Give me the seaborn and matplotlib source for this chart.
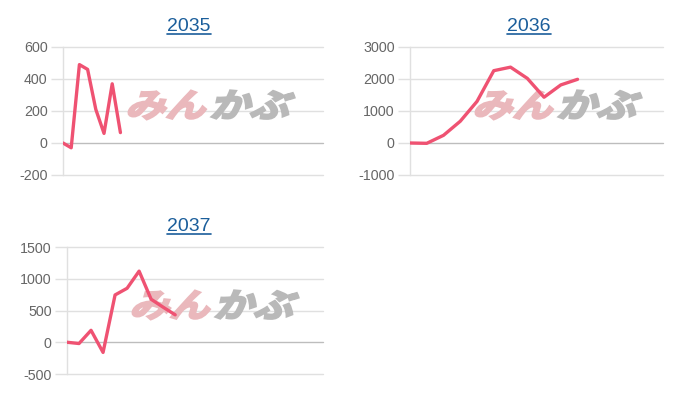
import matplotlib
matplotlib.use("Agg")
import matplotlib.pyplot as plt
import matplotlib.transforms as mtransforms
from matplotlib.lines import Line2D
from matplotlib.patches import PathPatch
from matplotlib.textpath import TextPath
from matplotlib.font_manager import FontProperties
import seaborn as sns
import pandas as pd

# Data
# ==================================================
years = ["2035", "2036", "2037"]
values_2035 = [0, -30, 490, 460, 210, 60, 370, 65]
values_2036 = [0, -10, 240, 680, 1300, 2260, 2370, 2020, 1430, 1815, 1990]
values_2037 = [0, -20, 188, -160, 745, 850, 1120, 677, 552, 432]
y_ticks = {
    "2035": [-200, 0, 200, 400, 600],
    "2036": [-1000, 0, 1000, 2000, 3000],
    "2037": [-500, 0, 500, 1000, 1500],
}
series = {"2035": values_2035, "2036": values_2036, "2037": values_2037}

# Style
# ==================================================
sns.set_style("white")
plt.rcParams["font.family"] = ["Liberation Sans", "DejaVu Sans"]

LINE_COLOR = "#ef5272"
GRID_COLOR = "#e0e0e0"
ZERO_COLOR = "#bdbdbd"
TICK_COLOR = "#666666"
TITLE_COLOR = "#1b5e9b"

W, H = 700, 400
fig = plt.figure(figsize=(7, 4), dpi=100)

# axes boxes in pixels: left, right, top, bottom ; xlim max ; title centre x, title baseline y
layout = {
    "2035": (63, 323, 47, 175, 31.7, 189, 31),
    "2036": (410, 663, 47, 175, 15.1, 529, 31),
    "2037": (67, 323, 247, 374, 21.3, 189, 231),
}

wm_font = FontProperties(family="Noto Sans CJK JP", weight="bold")


def add_watermark(ax, x_px, base_px):
    # logo-like watermark, slanted
    for txt, col, dx in [("みん", "#eab8bc", 0), ("かぶ", "#b9b9b9", 84)]:
        tp = TextPath((0, 0), txt, size=1, prop=wm_font)
        tr = mtransforms.Affine2D().scale(40, 33).skew_deg(18, 0).translate(x_px + dx, H - base_px)
        path = tr.transform_path(tp)
        patch = PathPatch(path, facecolor=col, edgecolor=col, lw=1.6,
                          transform=mtransforms.IdentityTransform(), zorder=1.5, clip_on=False)
        ax.add_artist(patch)


titles = []
for year in years:
    left, right, top, bottom, xmax, tx, ty = layout[year]
    ax = fig.add_axes([left / W, 1 - bottom / H, (right - left) / W, (bottom - top) / H])
    df = pd.DataFrame({"x": range(len(series[year])), "y": series[year]})

    # gridlines
    ticks = y_ticks[year]
    for t in ticks:
        ax.axhline(t, color=ZERO_COLOR if t == 0 else GRID_COLOR, lw=1, zorder=1, clip_on=False)

    add_watermark(ax, left + 62, top + 70)

    sns.lineplot(data=df, x="x", y="y", ax=ax, color=LINE_COLOR, lw=2.4, zorder=3)

    ax.set_xlim(0, xmax)
    ax.set_ylim(ticks[0], ticks[-1])
    ax.set_yticks(ticks)
    ax.set_yticklabels([str(t) for t in ticks])
    ax.set_xticks([])
    ax.set_xlabel("")
    ax.set_ylabel("")
    ax.tick_params(axis="y", length=9, width=1, color=GRID_COLOR, pad=2,
                   labelsize=10.3, labelcolor=TICK_COLOR, left=True)
    for s in ["top", "right", "bottom"]:
        ax.spines[s].set_visible(False)
    ax.spines["left"].set_color(GRID_COLOR)
    ax.spines["left"].set_linewidth(1)
    ax.patch.set_alpha(0)

    t = fig.text(tx / W, 1 - ty / H, year, ha="center", va="baseline",
                 fontsize=14, color=TITLE_COLOR)
    titles.append((t, ty))

# underline the titles like links
fig.canvas.draw()
renderer = fig.canvas.get_renderer()
for t, ty in titles:
    bb = t.get_window_extent(renderer)
    y = H - ty - 2.5
    fig.add_artist(Line2D([bb.x0, bb.x1], [y, y], color=TITLE_COLOR, lw=1.2,
                          transform=mtransforms.IdentityTransform()))

fig.savefig("out.png", dpi=100, facecolor="white")
